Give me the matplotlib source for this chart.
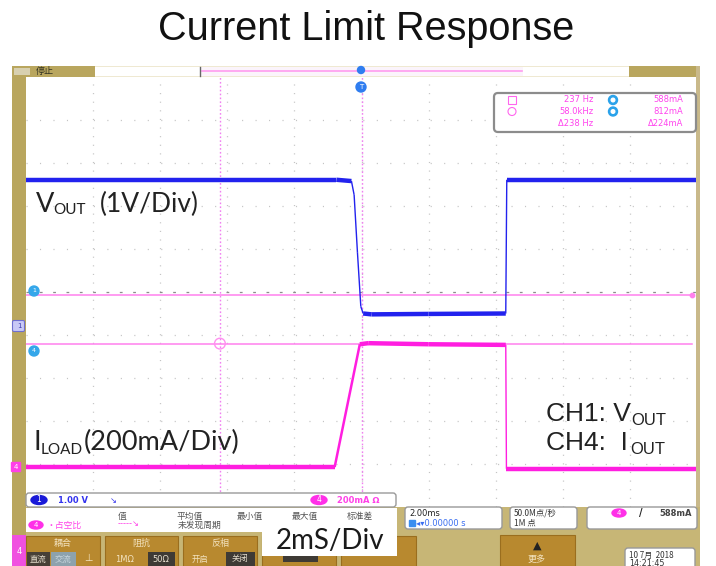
import numpy as np
import matplotlib.pyplot as plt
from matplotlib.patches import Rectangle, FancyBboxPatch, Circle, Ellipse

plt.rcParams['lines.scale_dashes'] = False
CJK = ['Noto Sans CJK SC', 'DejaVu Sans']

W, H = 716, 566

# scope settings (2 ms/div, CH1 1 V/div, CH4 200 mA/div)
ms_per_div = 2.0
ch1_v_per_div = 1.0
ch4_ma_per_div = 200.0
ch1_offset_div = -0.79
ch4_offset_div = -4.14

# CH1: Vout (time in ms, volts)
vout_t = [-10, -0.75, -0.30, -0.22, -0.12, -0.02, 0.05, 0.30, 2.0, 4.30, 4.33, 10]
vout_v = [3.40, 3.40, 3.37, 3.05, 1.70, 0.45, 0.29, 0.27, 0.28, 0.29, 3.40, 3.40]

# CH4: load current (time in ms, mA)
iout_t = [-10, -0.80, -0.05, 0.20, 2.0, 4.30, 4.32, 10]
iout_ma = [14, 14, 585, 590, 585, 582, 6, 6]

# cursors
cursor_t = [-4.22, 0.017]
cursor_ma = [588, 812]

meas_rows = [("237 Hz", "588mA"), ("58.0kHz", "812mA"), ("\u0394238 Hz", "\u0394224mA")]

blue = '#2222ee'
mag = '#ff1ee0'
gold = '#b9a65e'
tan = '#c7b676'
btn = '#b8892f'

fig = plt.figure(figsize=(7.16, 5.66), dpi=100)

# ---- scope screen ----
sc = fig.add_axes([26 / W, (H - 507) / H, 671 / W, 430 / H])
sc.set_xlim(-10, 10)
sc.set_ylim(-5, 5)
sc.axis('off')
sc.set_zorder(1)

for t in np.arange(-8, 9, 2):
    sc.axvline(t, color='#c4c4c4', lw=0.9, ls=(0, (0.8, 5.4)))
for d in range(-4, 5):
    if d == 0:
        sc.axhline(d, color='#8c8c8c', lw=0.9, ls=(0, (2, 7.6)))
    else:
        sc.axhline(d, color='#c4c4c4', lw=0.9, ls=(0, (0.8, 8.9)))

# cursors
for c in cursor_t:
    sc.axvline(c, color='#f080f0', lw=1.0, ls=(0, (1.2, 1.6)))
for c in cursor_ma:
    sc.axhline(c / ch4_ma_per_div + ch4_offset_div, color='#ff80ee', lw=1.1,
               xmax=0.993)


def draw_trace(t, y, color):
    t = np.asarray(t)
    y = np.asarray(y)
    px_x = np.diff(t) / ms_per_div * 67.1
    px_y = np.diff(y) * 43
    for i in range(len(t) - 1):
        if abs(px_y[i]) < abs(px_x[i]):
            lw = 3.2
        elif abs(px_x[i]) > 5:
            lw = 1.8
        else:
            lw = 1.0
        sc.plot(t[i:i + 2], y[i:i + 2], color=color, lw=lw,
                solid_capstyle='butt', zorder=3)


draw_trace(vout_t, np.array(vout_v) / ch1_v_per_div + ch1_offset_div, blue)
draw_trace(iout_t, np.array(iout_ma) / ch4_ma_per_div + ch4_offset_div, mag)

sc.scatter([cursor_t[0]], [cursor_ma[0] / ch4_ma_per_div + ch4_offset_div],
           s=60, facecolor='none', edgecolor='#ff90f0', lw=1, zorder=4)
sc.scatter([9.85], [cursor_ma[1] / ch4_ma_per_div + ch4_offset_div],
           s=10, color='#ff80ee', zorder=4)

# ---- overlay: frame, panels, annotations ----
ov = fig.add_axes([0, 0, 1, 1])
ov.set_xlim(0, W)
ov.set_ylim(H, 0)
ov.axis('off')
ov.set_zorder(2)
ov.patch.set_alpha(0)


def rect(x0, y0, x1, y1, fc, ec='none', lw=0, z=1):
    ov.add_patch(Rectangle((x0, y0), x1 - x0, y1 - y0, facecolor=fc,
                           edgecolor=ec, lw=lw, zorder=z))


def rbox(x0, y0, x1, y1, fc='white', ec='#8a8a8a', lw=1, r=3, z=2):
    ov.add_patch(FancyBboxPatch((x0 + r, y0 + r), x1 - x0 - 2 * r, y1 - y0 - 2 * r,
                                boxstyle=f"round,pad={r}", facecolor=fc,
                                edgecolor=ec, lw=lw, zorder=z))


# title
ov.text(366, 29, "Current Limit Response", ha='center', va='center',
        fontsize=28.5, family='Liberation Sans', color='#111111')

# top bar
rect(12, 66, 700, 77, '#efe9d2')
rect(12, 66, 95, 77, gold)
rect(95, 67, 200, 76, 'white')
rect(200, 67, 523, 76, '#fbf4fb')
ov.plot([202, 522], [70.5, 70.5], color='#ff9cf0', lw=1.2, zorder=2)
ov.plot([200, 200], [67, 76], color='#666666', lw=1, zorder=2)
rect(523, 67, 629, 76, 'white')
rect(629, 66, 697, 77, gold)
rect(14, 68, 30, 75, '#d8d0b0')
ov.text(36, 71.5, "停止", fontsize=6.5, family=CJK, va='center', color='#333322')

# left frame and right edge
rect(12, 77, 26, 535, gold)
rect(12, 535, 26, 566, '#f050e0')
ov.text(19, 551, "4", fontsize=6, color='white', ha='center', va='center')
rect(696, 66, 700, 507, '#c9b98a')

# bottom panel background
rect(26, 507, 700, 566, tan)

# row 1 info bar
rbox(26, 493, 396, 507, fc='white', ec='#9a9a9a', lw=1, r=3)
ov.add_patch(Ellipse((39, 500), 16, 9, color='#1a1ad8', zorder=3))
ov.text(39, 500, "1", color='white', fontsize=5.5, ha='center', va='center', zorder=4)
ov.text(58, 500.5, "1.00 V", color='#3333ee', fontsize=6, fontweight='bold',
        va='center', zorder=4)
ov.text(110, 500.5, "\u2198", color='#3333ee', fontsize=6, va='center', zorder=4)
ov.add_patch(Ellipse((319, 500), 16, 9, color='#ff30e8', zorder=3))
ov.text(319, 500, "4", color='white', fontsize=5.5, ha='center', va='center', zorder=4)
ov.text(337, 500.5, "200mA \u2126", color='#ff40e8', fontsize=6, fontweight='bold',
        va='center', zorder=4)

# row 2 measurement panel
rect(26, 508, 262, 532, 'white', z=2)
rect(262, 508, 397, 556, 'white', z=2)
for x, s in [(122, "值"), (190, "平均值"), (250, "最小值"), (305, "最大值"), (360, "标准差")]:
    ov.text(x, 516, s, family=CJK, fontsize=6.3, ha='center', va='center',
            color='#555555', zorder=4)
ov.add_patch(Ellipse((36, 525), 14, 8, color='#ff30e8', zorder=3))
ov.text(36, 525, "4", color='white', fontsize=5, ha='center', va='center', zorder=4)
ov.text(46, 525, "\u2022占空比", family=CJK, fontsize=6.3, color='#ff40e8',
        va='center', zorder=4)
ov.text(118, 524, "-----\u2198", fontsize=6, color='#ff40e8', va='center', zorder=4)
ov.text(178, 525, "未发现周期", family=CJK, fontsize=6.3, color='#555555',
        va='center', zorder=4)

ov.text(330, 541, "2mS/Div", fontsize=20, family='Lato', ha='center',
        va='center', color='#1a1a1a', zorder=5)

rbox(405, 507, 502, 529, fc='white', ec='#999999')
ov.text(409, 513, "2.00ms", fontsize=6, color='#222222', va='center', zorder=4)
ov.add_patch(Rectangle((409, 520), 6, 6, color='#3a8ef0', zorder=4))
ov.text(416, 523.5, "\u25c2\u25be0.00000 s", fontsize=6, color='#3a6ef0',
        va='center', zorder=4)
rbox(510, 507, 577, 529, fc='white', ec='#999999')
ov.text(514, 513, "50.0M点/秒", family=CJK, fontsize=6, color='#333333',
        va='center', zorder=4)
ov.text(514, 523.5, "1M 点", family=CJK, fontsize=6, color='#333333',
        va='center', zorder=4)
rbox(587, 507, 697, 529, fc='white', ec='#999999')
ov.add_patch(Ellipse((619, 513), 14, 8, color='#ff30e8', zorder=3))
ov.text(619, 513, "4", color='white', fontsize=5, ha='center', va='center', zorder=4)
ov.text(641, 513, "/", fontsize=7, fontweight='bold', color='#222222',
        ha='center', va='center', zorder=4)
ov.text(692, 513, "588mA", fontsize=6, fontweight='bold', color='#444444',
        ha='right', va='center', zorder=4)

# row 3 buttons
buttons = [(26, 100, "耦合"), (105, 178, "阻抗"), (183, 257, "反相"),
           (262, 336, ""), (341, 416, "")]
for x0, x1, s in buttons:
    rect(x0, 536, x1, 566, btn, ec='#9a6e1e', lw=0.8)
    if s:
        ov.text((x0 + x1) / 2, 543, s, family=CJK, fontsize=6.5, color='#f3e3c0',
                ha='center', va='center', zorder=4)
rect(27, 552, 50, 566, '#474037')
rect(51, 552, 76, 566, '#8da2ad')
ov.text(38, 559, "直流", family=CJK, fontsize=6, color='#e8e0d0', ha='center',
        va='center', zorder=4)
ov.text(63, 559, "交流", family=CJK, fontsize=6, color='#c8d6de', ha='center',
        va='center', zorder=4)
ov.text(88, 558, "\u22a5", fontsize=7, color='#f3e3c0', ha='center', va='center', zorder=4)
ov.text(125, 559, "1MΩ", fontsize=6, color='#f3e3c0', ha='center', va='center', zorder=4)
rect(148, 552, 175, 566, '#3e3a35')
ov.text(161, 559, "50Ω", fontsize=6, color='#e8e0d0', ha='center', va='center', zorder=4)
ov.text(200, 559, "开启", family=CJK, fontsize=6, color='#f3e3c0', ha='center',
        va='center', zorder=4)
rect(226, 552, 255, 566, '#3e3a35')
ov.text(240, 559, "关闭", family=CJK, fontsize=6, color='#e8e0d0', ha='center',
        va='center', zorder=4)
rect(283, 556, 318, 562, '#3e3a35', z=3)

rect(500, 535, 575, 566, btn, ec='#9a6e1e', lw=0.8)
ov.text(537, 546, "\u25b2", fontsize=8, color='#222222', ha='center', va='center', zorder=4)
ov.text(537, 559, "更多", family=CJK, fontsize=6.5, color='#f3e3c0', ha='center',
        va='center', zorder=4)
rbox(625, 548, 695, 570, fc='white', ec='#999999')
ov.text(629, 555, "10 7月  2018", family=CJK, fontsize=5.8, color='#333333',
        va='center', zorder=4)
ov.text(629, 563, "14:21:45", fontsize=5.8, color='#333333', va='center', zorder=4)

# measurement box
rbox(494, 93, 696, 132, fc='white', ec='#8c8c8c', lw=1.6, r=4)
row_y = [100, 111.5, 123]
ov.add_patch(Rectangle((508, 96), 8, 8, facecolor='none', edgecolor='#ff66ee',
                       lw=0.8, zorder=4))
ov.add_patch(Circle((512, 111.5), 4, facecolor='none', edgecolor='#ff66ee',
                    lw=0.8, zorder=4))
for (a, b), y in zip(meas_rows, row_y):
    ov.text(593, y, a, fontsize=6, color='#ff44ee', ha='right', va='center', zorder=4)
    ov.text(683, y, b, fontsize=6, color='#ff44ee', ha='right', va='center', zorder=4)
for y in row_y[:2]:
    ov.add_patch(Circle((613, y), 4.5, color='#2aa2ea', zorder=4))
    ov.add_patch(Circle((613, y), 1.8, color='white', zorder=5))

# trigger and channel markers
ov.add_patch(Circle((361, 70), 3.5, color='#2f7df0', zorder=4))
ov.add_patch(Circle((361, 87), 5, color='#2f7df0', zorder=4))
ov.text(361, 87, "T", color='white', fontsize=5, ha='center', va='center', zorder=5)
for y, s in [(291, "1"), (351, "4")]:
    ov.add_patch(Circle((34, y), 5, color='#35a7ea', zorder=4))
    ov.text(34, y, s, color='white', fontsize=4.5, ha='center', va='center', zorder=5)
ov.add_patch(FancyBboxPatch((14, 322), 9, 8, boxstyle="round,pad=1.5",
                            facecolor='#c9c9f6', edgecolor='#6f6fd0', lw=0.8, zorder=4))
ov.text(19, 326, "1", color='#4040b0', fontsize=5, ha='center', va='center', zorder=5)
ov.add_patch(FancyBboxPatch((12, 463), 8, 8, boxstyle="round,pad=1.2",
                            facecolor='#ff40e8', edgecolor='none', zorder=4))
ov.text(16, 467, "4", color='white', fontsize=5, ha='center', va='center', zorder=5)

# annotations
ann = dict(color='#222222', va='baseline', zorder=6)
ov.text(36, 212, "V", fontsize=19.5, family='Lato', **ann)
ov.text(53, 214, "OUT", fontsize=11, family='Lato', **ann)
ov.text(100, 212, "(1V/Div)", fontsize=19, family='Lato', **ann)
ov.text(33, 450, "I", fontsize=19.5, family='Lato', **ann)
ov.text(41, 454, "LOAD", fontsize=11, family='Lato', **ann)
ov.text(84, 450, "(200mA/Div)", fontsize=19.5, family='Lato', **ann)
ov.text(546, 421, "CH1: V", fontsize=19, family='Liberation Sans', **ann)
ov.text(631, 425, "OUT", fontsize=12, family='Liberation Sans', **ann)
ov.text(546, 450, "CH4:  I", fontsize=19, family='Liberation Sans', **ann)
ov.text(630, 454, "OUT", fontsize=12, family='Liberation Sans', **ann)

fig.savefig("out.png", dpi=100)
